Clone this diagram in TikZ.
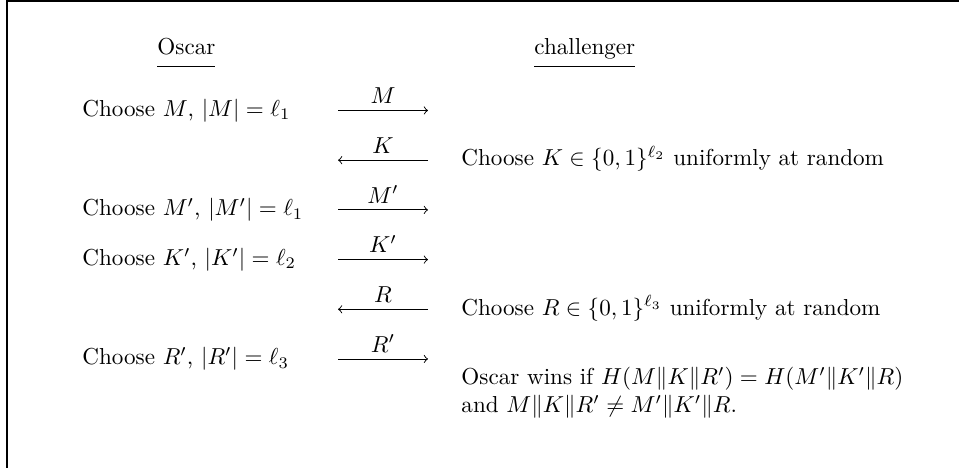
\documentclass[tikz,border=0pt]{standalone}
\usetikzlibrary{calc}
\begin{document}
\begin{tikzpicture}[x=0.4329pt, y=-0.4329pt,
  txt/.style={anchor=base west, inner sep=0pt},
  hdr/.style={anchor=base west, inner sep=0pt},
  msg/.style={->, line width=0.4pt},
  lbl/.style={anchor=base, inner sep=0pt, yshift=2.9pt},
  frame/.style={line width=0.6pt}]
\useasboundingbox (0,0) rectangle (959,468);
% partial frame
\coordinate (ftl) at (7,1);
\coordinate (ftr) at (959,1);
\coordinate (fbl) at (7,468);
\draw[frame] (fbl) -- (ftl) -- (ftr);
% headers
\node[hdr] (oscar) at (157,54.5) {\underline{\strut Oscar}};
\node[hdr] (chal) at (534,54.5) {\underline{\strut challenger}};
% left texts
\node[txt] (l1) at (82,116.3) {Choose $M$, $|M|=\ell_1$};
\node[txt] (l3) at (82,215.7) {Choose $M'$, $|M'|=\ell_1$};
\node[txt] (l4) at (82,265.4) {Choose $K'$, $|K'|=\ell_2$};
\node[txt] (l6) at (82,364.8) {Choose $R'$, $|R'|=\ell_3$};
% right texts
\node[txt] (r2) at (461,166.0) {Choose $K\in\{0,1\}^{\ell_2}$ uniformly at random};
\node[txt] (r5) at (461,315.1) {Choose $R\in\{0,1\}^{\ell_3}$ uniformly at random};
\node[txt] (w1) at (461,385) {Oscar wins if $H(M\|K\|R')=H(M'\|K'\|R)$};
\node[txt] (w2) at ($(w1.base west)+(0,27.7)$) {and $M\|K\|R'\neq M'\|K'\|R$.};
% arrow end points
\coordinate (a1l) at (338,110.5); \coordinate (a1r) at (428,110.5);
\coordinate (a2l) at (338,160.2); \coordinate (a2r) at (428,160.2);
\coordinate (a3l) at (338,209.9); \coordinate (a3r) at (428,209.9);
\coordinate (a4l) at (338,259.6); \coordinate (a4r) at (428,259.6);
\coordinate (a5l) at (338,309.3); \coordinate (a5r) at (428,309.3);
\coordinate (a6l) at (338,359.0); \coordinate (a6r) at (428,359.0);
\draw[msg] (a1l) -- node[lbl] {$M$} (a1r);
\draw[msg] (a2r) -- node[lbl] {$K$} (a2l);
\draw[msg] (a3l) -- node[lbl] {$M'$} (a3r);
\draw[msg] (a4l) -- node[lbl] {$K'$} (a4r);
\draw[msg] (a5r) -- node[lbl] {$R$} (a5l);
\draw[msg] (a6l) -- node[lbl] {$R'$} (a6r);
\end{tikzpicture}
\end{document}
